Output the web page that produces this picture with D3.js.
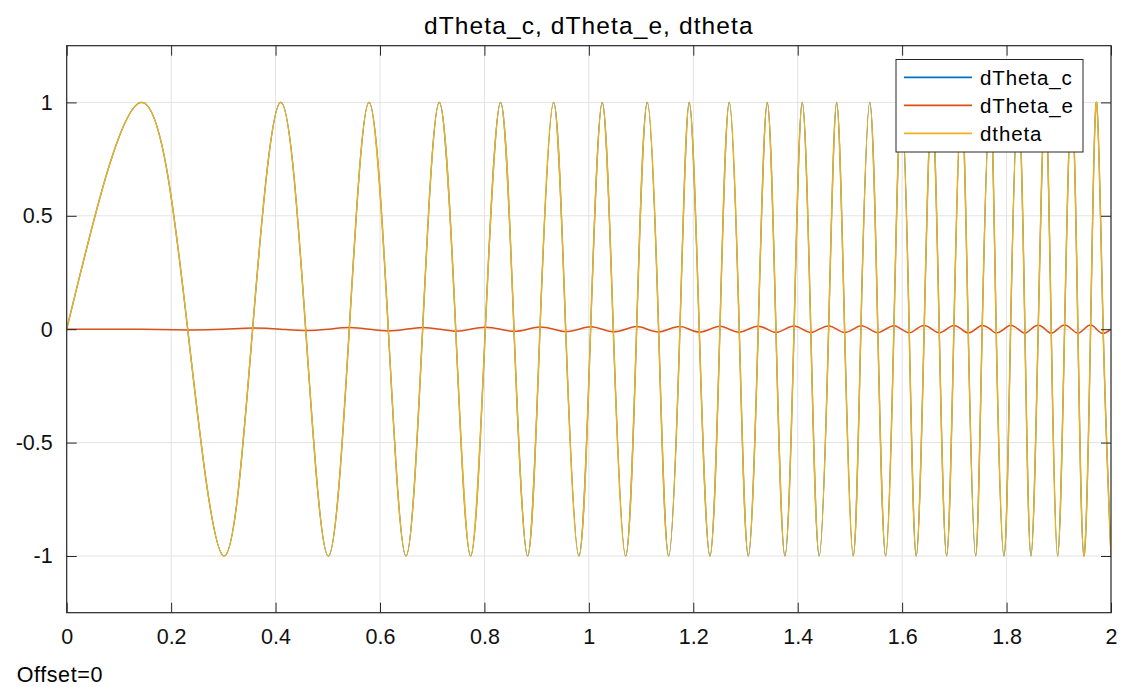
<!DOCTYPE html>
<meta charset="utf-8">
<head>
<script src="https://d3js.org/d3.v7.min.js"></script>
<style>
  body { margin: 0; background: #fff; }
  text { font-family: "Liberation Sans", Arial, sans-serif; }
</style>
</head>
<body>
<svg width="1132" height="687"></svg>
<script>
// times (seconds) where dtheta reaches +1, -1 and crosses 0
var peakTimes = [0.1436, 0.410, 0.579, 0.7136, 0.831, 0.9326, 1.0257, 1.1119, 1.1923, 1.2689, 1.3417,
  1.4087, 1.4746, 1.538, 1.5986, 1.657, 1.7137, 1.7687, 1.8222, 1.874, 1.9247, 1.9724];
var troughTimes = [0.3015, 0.501, 0.6498, 0.7736, 0.8828, 0.981, 1.0705, 1.1528, 1.2319, 1.3053, 1.3755,
  1.4412, 1.5064, 1.5684, 1.627, 1.6852, 1.7407, 1.795, 1.8467, 1.8978, 1.9481, 2.0];
var zeroTimes = [0, 0.2317, 0.356, 0.4577, 0.5412, 0.6159, 0.6817, 0.745, 0.8017, 0.8566, 0.9064, 0.9556,
  1.0034, 1.0468, 1.0915, 1.1336, 1.1744, 1.2114, 1.251, 1.288, 1.3244, 1.3583, 1.393, 1.425, 1.4592,
  1.4898, 1.521, 1.5534, 1.5842, 1.6135, 1.6422, 1.671, 1.6991, 1.7265, 1.7533, 1.7801, 1.8077, 1.8351,
  1.8606, 1.8855, 1.9111, 1.9366, 1.9609, 1.985];
// dTheta_e extremes, at the dtheta zero crossings (same order as zeroTimes)
var errValues = [0, -0.003, 0.005, -0.006, 0.007, -0.0075, 0.008, -0.0085, 0.009, -0.0095, 0.010, -0.0105,
  0.011, -0.0113, 0.0117, -0.012, 0.0123, -0.0126, 0.0129, -0.0132, 0.0135, -0.0138, 0.014, -0.0143, 0.0146,
  -0.0148, 0.015, -0.0153, 0.0155, -0.0158, 0.016, -0.0162, 0.0164, -0.0166, 0.0168, -0.017, 0.0172, -0.0174,
  0.0176, -0.0178, 0.018, -0.0182, 0.0184, -0.0186];

var xTicks = [0, 0.2, 0.4, 0.6, 0.8, 1, 1.2, 1.4, 1.6, 1.8, 2];
var yTicks = [-1, -0.5, 0, 0.5, 1];
var seriesNames = ["dTheta_c", "dTheta_e", "dtheta"];
var seriesColors = ["#0072BD", "#D95319", "#EDB120"];
var seriesWidths = [1.2, 1.5, 1.5];

// build point tables
var dtheta = [];
peakTimes.forEach(function(t){ dtheta.push({t: t, v: 1}); });
troughTimes.forEach(function(t){ dtheta.push({t: t, v: -1}); });
zeroTimes.forEach(function(t){ dtheta.push({t: t, v: 0}); });
dtheta.sort(function(a, b){ return a.t - b.t; });
var dThetaC = dtheta.slice(); // lies under dtheta in the picture

var dThetaE = [];
zeroTimes.forEach(function(t, i){ dThetaE.push({t: t, v: errValues[i]}); });
peakTimes.forEach(function(t){ dThetaE.push({t: t, v: 0}); });
troughTimes.forEach(function(t){ dThetaE.push({t: t, v: 0}); });
dThetaE.sort(function(a, b){ return a.t - b.t; });

var svg = d3.select("svg");
var pl = 66.7, pr = 1111, pt = 45.7, pb = 612.7;
var x = d3.scaleLinear().domain([0, 2]).range([pl, pr]);
var y = d3.scaleLinear().domain([-1.25, 1.25]).range([pb, pt]);
var axisColor = "#262626";
var fmt = function(d){ return String(d); };

// grid
svg.append("g").selectAll("line").data(xTicks.slice(1, -1)).enter().append("line")
  .attr("x1", d => x(d)).attr("x2", d => x(d)).attr("y1", pt).attr("y2", pb)
  .attr("stroke", "#e3e3e3").attr("stroke-width", 1);
svg.append("g").selectAll("line").data(yTicks).enter().append("line")
  .attr("x1", pl).attr("x2", pr).attr("y1", d => y(d)).attr("y2", d => y(d))
  .attr("stroke", "#e3e3e3").attr("stroke-width", 1);

svg.append("clipPath").attr("id", "clip").append("rect")
  .attr("x", pl).attr("y", pt).attr("width", pr - pl).attr("height", pb - pt);

var line = d3.line().x(d => x(d.t)).y(d => y(d.v)).curve(d3.curveNatural);
var plot = svg.append("g").attr("clip-path", "url(#clip)");
[dThetaC, dThetaE, dtheta].forEach(function(s, i){
  plot.append("path").datum(s).attr("d", line)
    .attr("fill", "none").attr("stroke", seriesColors[i]).attr("stroke-width", seriesWidths[i]);
});

// axes, ticks pointing inside
var xb = svg.append("g").attr("transform", "translate(0," + pb + ")")
  .call(d3.axisBottom(x).tickValues(xTicks).tickSize(-10).tickSizeOuter(0).tickPadding(16).tickFormat(fmt));
var xt = svg.append("g").attr("transform", "translate(0," + pt + ")")
  .call(d3.axisTop(x).tickValues(xTicks).tickSize(-10).tickSizeOuter(0).tickFormat(""));
var yl = svg.append("g").attr("transform", "translate(" + pl + ",0)")
  .call(d3.axisLeft(y).tickValues(yTicks).tickSize(-10).tickSizeOuter(0).tickPadding(14).tickFormat(fmt));
var yr = svg.append("g").attr("transform", "translate(" + pr + ",0)")
  .call(d3.axisRight(y).tickValues(yTicks).tickSize(-10).tickSizeOuter(0).tickFormat(""));
[xb, xt, yl, yr].forEach(function(g){
  g.attr("font-family", null).attr("font-size", null);
  g.select(".domain").remove();
  g.selectAll("line").attr("stroke", axisColor);
  g.selectAll("text").attr("fill", "#111").style("font-size", "21.5px");
});
xb.selectAll("text").attr("dy", "0.71em");

svg.append("rect").attr("x", pl).attr("y", pt).attr("width", pr - pl).attr("height", pb - pt)
  .attr("fill", "none").attr("stroke", axisColor).attr("stroke-width", 1.2);

// title
svg.append("text").attr("x", (pl + pr) / 2).attr("y", 34).attr("text-anchor", "middle")
  .style("font-size", "24.5px").style("letter-spacing", "1.1px").attr("fill", "#000")
  .text("dTheta_c, dTheta_e, dtheta");

svg.append("text").attr("x", 16.7).attr("y", 682).style("font-size", "21.5px").style("letter-spacing", "0.6px")
  .attr("fill", "#000").text("Offset=0");

// legend
var lg = svg.append("g");
lg.append("rect").attr("x", 896).attr("y", 59.5).attr("width", 187).attr("height", 92.5)
  .attr("fill", "#fff").attr("stroke", axisColor).attr("stroke-width", 1);
seriesNames.forEach(function(n, i){
  var yy = 77.3 + i * 28;
  lg.append("line").attr("x1", 904).attr("x2", 972).attr("y1", yy).attr("y2", yy)
    .attr("stroke", seriesColors[i]).attr("stroke-width", 1.8);
  lg.append("text").attr("x", 980).attr("y", yy + 7.5).style("font-size", "20.5px")
    .style("letter-spacing", "0.9px").attr("fill", "#000").text(n);
});
</script>
</body>
</html>
